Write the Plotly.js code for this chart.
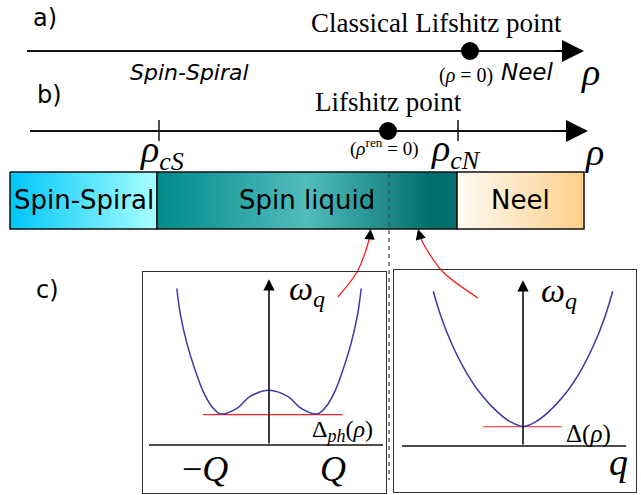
<!DOCTYPE html>
<html><head><meta charset="utf-8">
<script src="https://cdn.plot.ly/plotly-3.0.1.min.js"></script>
<style>html,body{margin:0;padding:0;background:#fff}#c{width:641px;height:495px}</style>
</head><body><div id="c"></div>
<script>
// ---- data ----
const phaseNames = ['Spin-Spiral', 'Spin liquid', 'Neel'];
const phaseEdges = [10, 157, 457, 584];          // bar boundaries along rho (figure units)
const axisA = {start: 27, end: 584, y: 51, lifshitz: 470};
const axisB = {start: 30, end: 588, y: 131, lifshitz: 388, ticks: [159, 458]};
const criticalSubs = ['cS', 'cN'];

// left inset: spin-spiral side dispersion (q in units of Q)
const leftQ     = [-1.92, -1.85, -1.71, -1.54, -1.37, -1.19, -1.0, -0.67, -0.40, 0, 0.40, 0.67, 1.0, 1.19, 1.37, 1.54, 1.71, 1.85, 1.92];
const leftOmega = [5.05, 4.25, 3.28, 2.42, 1.72, 1.24, 1.0, 1.18, 1.56, 1.77, 1.56, 1.18, 1.0, 1.24, 1.72, 2.42, 3.28, 4.25, 5.05];
const leftGap = 0.98, leftGapQ = [-1.375, 1.54];
// right inset: Neel side dispersion
const rightQ     = [-1.87, -1.70, -1.48, -1.21, -0.89, -0.54, -0.26, 0, 0.26, 0.54, 0.89, 1.21, 1.48, 1.70, 1.87];
const rightOmega = [4.99, 4.14, 3.28, 2.45, 1.70, 1.11, 0.78, 0.63, 0.78, 1.11, 1.70, 2.45, 3.28, 4.14, 4.99];
const rightGap = 0.62, rightGapQ = [-0.83, 0.81];

// ---- styles ----
const barScales = [
  [[0, '#00c6f6'], [1, '#a8feff']],
  [[0, '#008a8a'], [0.5, '#52bcbc'], [0.92, '#006d6d'], [1, '#007070']],
  [[0, '#fffbf4'], [1, '#fdcf8a']]
];
const BAR_TOP = 172, BAR_BOT = 229;
const SERIF = 'Liberation Serif, serif';
const SANS = 'DejaVu Sans, sans-serif';

const traces = [];
for (let i = 0; i < phaseNames.length; i++) {
  const x0 = phaseEdges[i], x1 = phaseEdges[i + 1];
  traces.push({
    type: 'scatter', mode: 'lines', xaxis: 'x', yaxis: 'y', hoverinfo: 'skip',
    x: [x0, x1, x1, x0, x0], y: [BAR_TOP, BAR_TOP, BAR_BOT, BAR_BOT, BAR_TOP],
    fill: 'toself', fillgradient: {type: 'horizontal', colorscale: barScales[i]},
    line: {color: '#111', width: 1.5}
  });
}
traces.push({type: 'scatter', mode: 'lines', x: [axisA.start, axisA.end - 10], y: [axisA.y, axisA.y], line: {color: '#111', width: 2}, hoverinfo: 'skip'});
traces.push({type: 'scatter', mode: 'lines', x: [axisB.start, axisB.end - 10], y: [axisB.y, axisB.y], line: {color: '#111', width: 2}, hoverinfo: 'skip'});
axisB.ticks.forEach(t => traces.push({type: 'scatter', mode: 'lines', x: [t, t], y: [axisB.y - 11, axisB.y + 10], line: {color: '#111', width: 1.5}, hoverinfo: 'skip'}));
traces.push({type: 'scatter', mode: 'markers', x: [axisA.lifshitz, axisB.lifshitz], y: [axisA.y, axisB.y], marker: {size: 18, color: '#000'}, hoverinfo: 'skip'});
traces.push({type: 'scatter', mode: 'lines', x: [389, 389], y: [BAR_TOP + 2, 480], line: {color: '#444', width: 1.2, dash: '4px,4px'}, hoverinfo: 'skip'});
traces.push({type: 'scatter', mode: 'lines', x: [338, 357, 366, 370], y: [297, 272, 250, 236], line: {color: '#ff1010', width: 1.2, shape: 'spline'}, hoverinfo: 'skip'});
traces.push({type: 'scatter', mode: 'lines', x: [478, 443, 427, 420], y: [298, 272, 250, 237], line: {color: '#ff1010', width: 1.2, shape: 'spline'}, hoverinfo: 'skip'});

traces.push({type: 'scatter', mode: 'lines', xaxis: 'x2', yaxis: 'y2', x: [-2.5, 2.375], y: [0, 0], line: {color: '#111', width: 1.5}, hoverinfo: 'skip'});
traces.push({type: 'scatter', mode: 'lines', xaxis: 'x2', yaxis: 'y2', x: leftGapQ, y: [leftGap, leftGap], line: {color: '#ff2020', width: 1.2}, hoverinfo: 'skip'});
traces.push({type: 'scatter', mode: 'lines', xaxis: 'x2', yaxis: 'y2', x: leftQ, y: leftOmega, line: {color: '#3a3aa8', width: 1.5, shape: 'spline', smoothing: 1}, hoverinfo: 'skip'});
traces.push({type: 'scatter', mode: 'lines', xaxis: 'x3', yaxis: 'y3', x: [-2.52, 2.15], y: [0, 0], line: {color: '#111', width: 1.5}, hoverinfo: 'skip'});
traces.push({type: 'scatter', mode: 'lines', xaxis: 'x3', yaxis: 'y3', x: rightGapQ, y: [rightGap, rightGap], line: {color: '#ff2020', width: 1.2}, hoverinfo: 'skip'});
traces.push({type: 'scatter', mode: 'lines', xaxis: 'x3', yaxis: 'y3', x: rightQ, y: rightOmega, line: {color: '#3a3aa8', width: 1.5, shape: 'spline', smoothing: 1}, hoverinfo: 'skip'});

function txt(x, y, text, size, family, extra) {
  return Object.assign({x, y, xref: 'x', yref: 'y', text, showarrow: false, xanchor: 'center', yanchor: 'middle',
    font: {size, family, color: '#000'}}, extra || {});
}
const big = (s, px) => '<span style="font-size:' + px + 'px">' + s + '</span>';
const ann = [
  txt(45, 18, 'a)', 24, SANS), txt(49, 95, 'b)', 24, SANS), txt(47, 290, 'c)', 24, SANS),
  txt(436, 23, 'Classical Lifshitz point', 27, SERIF),
  txt(189, 72, '<i>Spin-Spiral</i>', 22, SANS),
  txt(466, 75, '(<i>ρ</i> = 0)', 20, SERIF),
  txt(527, 72, '<i>Neel</i>', 23, SANS),
  txt(590, 72, '<i>ρ</i>', 38, SERIF),
  txt(388, 102, 'Lifshitz point', 27, SERIF),
  txt(162, 152, '<i>ρ</i><sub>' + big('<i>' + criticalSubs[0] + '</i>', 26) + '</sub>', 38, SERIF),
  txt(456, 151, '<i>ρ</i><sub>' + big('<i>' + criticalSubs[1] + '</i>', 26) + '</sub>', 38, SERIF),
  txt(384, 147, '(<i>ρ</i><sup>ren</sup> = 0)', 19, SERIF),
  txt(594, 152, '<i>ρ</i>', 38, SERIF),
  txt((phaseEdges[0] + phaseEdges[1]) / 2, 200, phaseNames[0], 26, SANS),
  txt((phaseEdges[1] + phaseEdges[2]) / 2, 200, phaseNames[1], 26, SANS),
  txt((phaseEdges[2] + phaseEdges[3]) / 2, 200, phaseNames[2], 26, SANS),
  txt(307, 291, '<i>ω</i><sub>' + big('<i>q</i>', 24) + '</sub>', 34, SERIF),
  txt(342, 431, 'Δ<sub>' + big('<i>ph</i>', 18) + '</sub>(<i>ρ</i>)', 24, SERIF),
  txt(205, 469, '−<i>Q</i>', 36, SERIF),
  txt(333, 469, '<i>Q</i>', 36, SERIF),
  txt(559, 293, '<i>ω</i><sub>' + big('<i>q</i>', 24) + '</sub>', 34, SERIF),
  txt(588, 434, 'Δ(<i>ρ</i>)', 25, SERIF),
  txt(618, 462, '<i>q</i>', 38, SERIF),
  {x: axisA.end, y: axisA.y, ax: axisA.end - 30, ay: axisA.y, xref: 'x', yref: 'y', axref: 'x', ayref: 'y', showarrow: true, arrowhead: 2, arrowsize: 2.2, arrowwidth: 2, arrowcolor: '#000', text: ''},
  {x: axisB.end, y: axisB.y, ax: axisB.end - 30, ay: axisB.y, xref: 'x', yref: 'y', axref: 'x', ayref: 'y', showarrow: true, arrowhead: 2, arrowsize: 2.2, arrowwidth: 2, arrowcolor: '#000', text: ''},
  {x: 370.5, y: 229, ax: 369.5, ay: 240, xref: 'x', yref: 'y', axref: 'x', ayref: 'y', showarrow: true, arrowhead: 2, arrowsize: 1.6, arrowwidth: 1.3, arrowcolor: '#000', text: ''},
  {x: 418, y: 229, ax: 421, ay: 240, xref: 'x', yref: 'y', axref: 'x', ayref: 'y', showarrow: true, arrowhead: 2, arrowsize: 1.6, arrowwidth: 1.3, arrowcolor: '#000', text: ''},
  {x: 0, y: 5.35, ax: 0, ay: 0, xref: 'x2', yref: 'y2', axref: 'x2', ayref: 'y2', showarrow: true, arrowhead: 2, arrowsize: 1.5, arrowwidth: 1.5, arrowcolor: '#000', text: ''},
  {x: 0, y: 5.35, ax: 0, ay: 0, xref: 'x3', yref: 'y3', axref: 'x3', ayref: 'y3', showarrow: true, arrowhead: 2, arrowsize: 1.5, arrowwidth: 1.5, arrowcolor: '#000', text: ''}
];

const hid = {visible: false, fixedrange: true};
const box = {showgrid: false, zeroline: false, showticklabels: false, ticks: '', showline: true, mirror: true, linecolor: '#333', linewidth: 1, fixedrange: true};
const layout = {
  width: 641, height: 495, margin: {l: 0, r: 0, t: 0, b: 0},
  paper_bgcolor: '#fff', plot_bgcolor: 'rgba(0,0,0,0)', showlegend: false,
  xaxis: Object.assign({range: [0, 641], domain: [0, 1]}, hid),
  yaxis: Object.assign({range: [495, 0], domain: [0, 1]}, hid),
  xaxis2: Object.assign({range: [-2.625, 2.4375], domain: [143 / 641, 386 / 641], anchor: 'y2'}, box),
  yaxis2: Object.assign({range: [-1.548, 5.581], domain: [1 - 493 / 495, 1 - 272 / 495], anchor: 'x2'}, box),
  xaxis3: Object.assign({range: [-2.6875, 2.354], domain: [394 / 641, 636 / 641], anchor: 'y3'}, box),
  yaxis3: Object.assign({range: [-1.484, 5.677], domain: [1 - 492 / 495, 1 - 270 / 495], anchor: 'x3'}, box),
  annotations: ann
};
Plotly.newPlot('c', traces, layout, {staticPlot: true, displayModeBar: false});
</script></body></html>
